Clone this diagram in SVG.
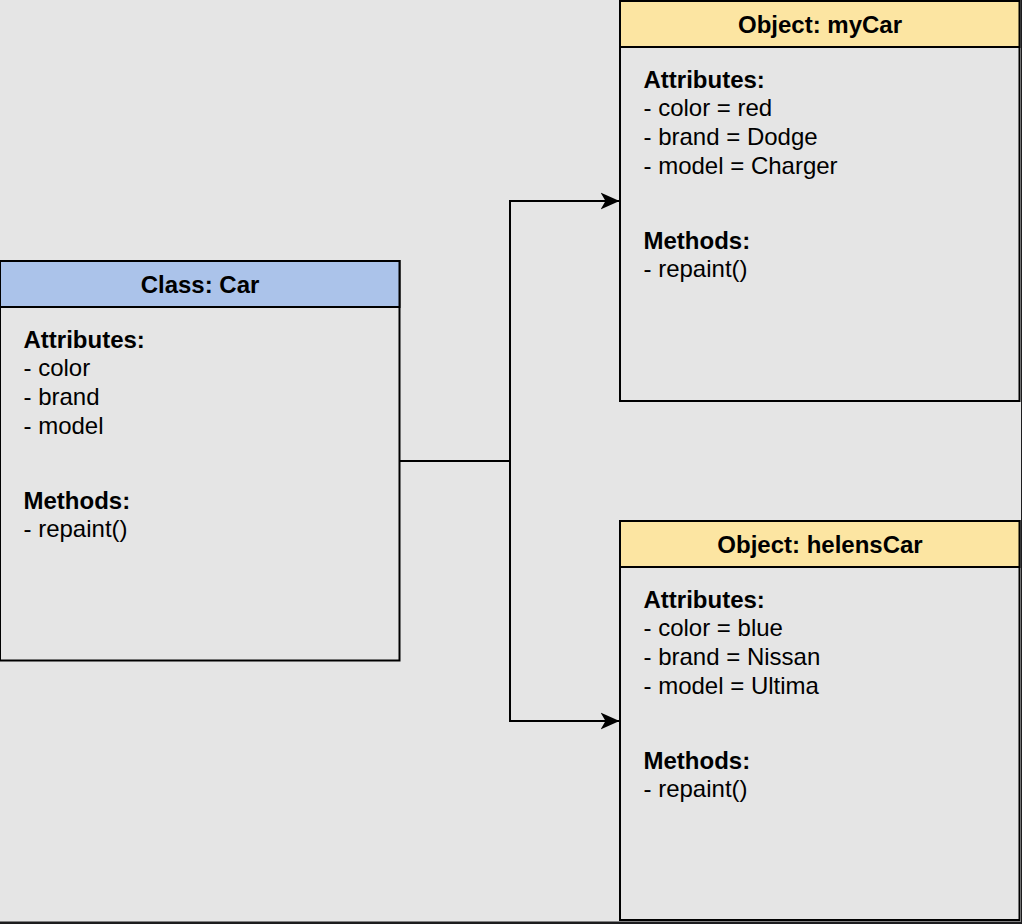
<svg xmlns="http://www.w3.org/2000/svg" width="1022" height="924" viewBox="0 0 1022 924">
<style>
.box{fill:#e5e5e5;stroke:#000;stroke-width:2}
.hdr{stroke:#000;stroke-width:2}
.cls{fill:#abc3ea}
.obj{fill:#fce5a2}
text{font-family:"Liberation Sans",Arial,Helvetica,sans-serif;font-size:24px;fill:#000}
.t{font-weight:bold;text-anchor:middle}
.b{font-weight:bold}
.conn{fill:none;stroke:#000;stroke-width:2}
</style>
<defs>
<marker id="arr" markerUnits="userSpaceOnUse" markerWidth="20" markerHeight="20" viewBox="0 0 20 20" refX="19" refY="10" orient="auto">
<path d="M0,1.5 L19,10 L0,18.5 L5,10 Z" fill="#000"/>
</marker>
</defs>
<rect width="1022" height="924" fill="#e5e5e5"/>
<rect x="1021" y="0" width="1" height="924" fill="#1c1c1e"/>
<rect x="0" y="921.5" width="1022" height="2.5" fill="#1c1c1e"/>
<g id="connectors">
<polyline class="conn" points="400,461 510,461 510,201 619.5,201" marker-end="url(#arr)"/>
<polyline class="conn" points="400,461 510,461 510,721 619.5,721" marker-end="url(#arr)"/>
</g>
<g id="class-car">
<rect class="box" x="0" y="261" width="399.5" height="399.5"/>
<rect class="hdr cls" x="0" y="261" width="399.5" height="46"/>
<text class="t" x="200" y="292.5">Class: Car</text>
<text class="b" x="23.5" y="347.5">Attributes:</text>
<text x="23.5" y="376">- color</text>
<text x="23.5" y="405">- brand</text>
<text x="23.5" y="433.5">- model</text>
<text class="b" x="23.5" y="509">Methods:</text>
<text x="23.5" y="536.5">- repaint()</text>
</g>
<g id="object-mycar">
<rect class="box" x="620" y="1" width="399.5" height="400"/>
<rect class="hdr obj" x="620" y="1" width="399.5" height="46"/>
<text class="t" x="820" y="33">Object: myCar</text>
<text class="b" x="643.5" y="87.5">Attributes:</text>
<text x="643.5" y="116">- color = red</text>
<text x="643.5" y="145">- brand = Dodge</text>
<text x="643.5" y="173.5">- model = Charger</text>
<text class="b" x="643.5" y="249">Methods:</text>
<text x="643.5" y="276.5">- repaint()</text>
</g>
<g id="object-helenscar">
<rect class="box" x="620" y="521" width="399.5" height="399"/>
<rect class="hdr obj" x="620" y="521" width="399.5" height="46"/>
<text class="t" x="820" y="553">Object: helensCar</text>
<text class="b" x="643.5" y="607.5">Attributes:</text>
<text x="643.5" y="636">- color = blue</text>
<text x="643.5" y="665">- brand = Nissan</text>
<text x="643.5" y="693.5">- model = Ultima</text>
<text class="b" x="643.5" y="769">Methods:</text>
<text x="643.5" y="796.5">- repaint()</text>
</g>
</svg>
